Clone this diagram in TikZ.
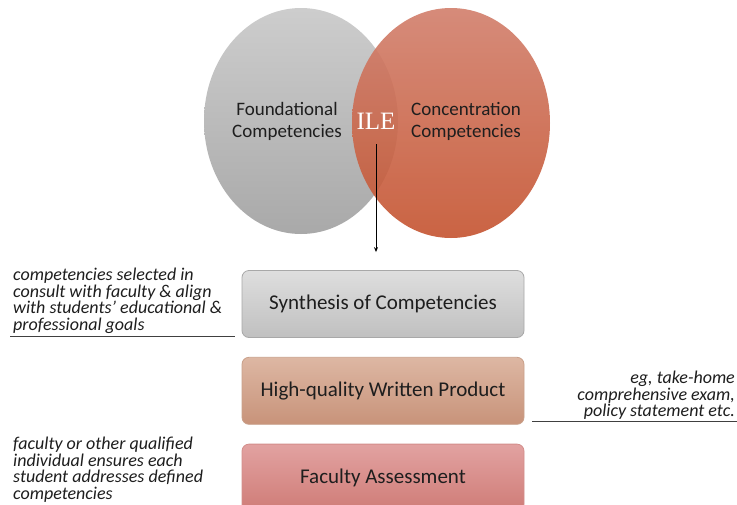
\documentclass[tikz,border=0pt]{standalone}
\usepackage{fontspec}
\setmainfont{Carlito}
\newfontfamily\ilefont{Liberation Serif}
\usetikzlibrary{arrows.meta,positioning,shapes.geometric}
\definecolor{ink}{HTML}{1E1E1E}
\definecolor{grtop}{HTML}{CDCDCD}
\definecolor{grbot}{HTML}{A9A9A9}
\definecolor{ortop}{HTML}{D27F6C}
\definecolor{orbot}{HTML}{C5532F}
\definecolor{synA}{HTML}{DEDEDE}
\definecolor{synB}{HTML}{C0C0C0}
\definecolor{synD}{HTML}{A8A8A8}
\definecolor{wriA}{HTML}{DDB7A3}
\definecolor{wriB}{HTML}{C8937A}
\definecolor{wriD}{HTML}{C9A08A}
\definecolor{facA}{HTML}{E2A2A1}
\definecolor{facB}{HTML}{CF7C77}
\definecolor{facD}{HTML}{D38E8B}
\tikzset{
  circ/.style={ellipse,minimum width=194pt,minimum height=226pt,inner sep=0pt},
  ctxt/.style={align=center,font=\fontsize{19}{22}\selectfont,text=ink},
  stage/.style={draw,rounded corners=7pt,minimum width=282pt,minimum height=67pt,
    font=\fontsize{21}{24}\selectfont,text=ink,line width=0.8pt},
  note/.style={font=\itshape\fontsize{18}{16.5}\selectfont,text=ink,inner sep=0pt},
  uline/.style={line width=1.2pt,color=black!75},
  arr/.style={-{Stealth[length=5pt,width=4pt]},line width=0.8pt,color=black},
  node distance=19pt
}
\begin{document}
\begin{tikzpicture}[x=1pt,y=-1pt]
  \clip (0,0) rectangle (737,504);
  \fill[white] (0,0) rectangle (737,504);
  % the two competency areas
  \node[circ,top color=grtop,bottom color=grbot] (fnd) at (301,121) {};
  \node[circ,top color=ortop,bottom color=orbot,fill opacity=0.9,
    minimum width=198pt,minimum height=230pt] (con) at (451,123) {};
  \node[ctxt] (fndlbl) at (287,121) {Foundational\\Competencies};
  \node[ctxt] (conlbl) at (466,121) {Concentration\\Competencies};
  \node[font=\ilefont\fontsize{25}{25}\selectfont,text=white,inner sep=1pt] (ile) at (376,121) {ILE};
  % stages
  \node[stage,draw=synD,top color=synA,bottom color=synB] (synth) at (383,304) {Synthesis of Competencies};
  \node[stage,draw=wriD,top color=wriA,bottom color=wriB,below=of synth] (written) {High-quality Written Product};
  \node[stage,draw=facD,top color=facA,bottom color=facB,below=of written] (assess) {Faculty Assessment};
  \draw[arr,shorten <=14pt,shorten >=18pt] (ile.south) -- (ile.south |- synth.north);
  % side notes
  \node[note,align=left,anchor=north west] (n1) at (13,268)
    {competencies selected in\\consult with faculty \& align\\with students' educational \&\\professional goals};
  \draw[uline] ([xshift=-3pt,yshift=-3pt]n1.south west) -- ([xshift=-7pt,yshift=-3pt]synth.west |- n1.south);
  \node[note,align=right,anchor=north east] (n2) at (735,371)
    {eg, take-home\\comprehensive exam,\\policy statement etc.};
  \draw[uline] ([xshift=8pt,yshift=-2pt]written.east |- n2.south) -- ([xshift=2pt,yshift=-2pt]n2.south east);
  \node[note,align=left,anchor=north west] (n3) at (13,437)
    {faculty or other qualified\\individual ensures each\\student addresses defined\\competencies};
\end{tikzpicture}
\end{document}
